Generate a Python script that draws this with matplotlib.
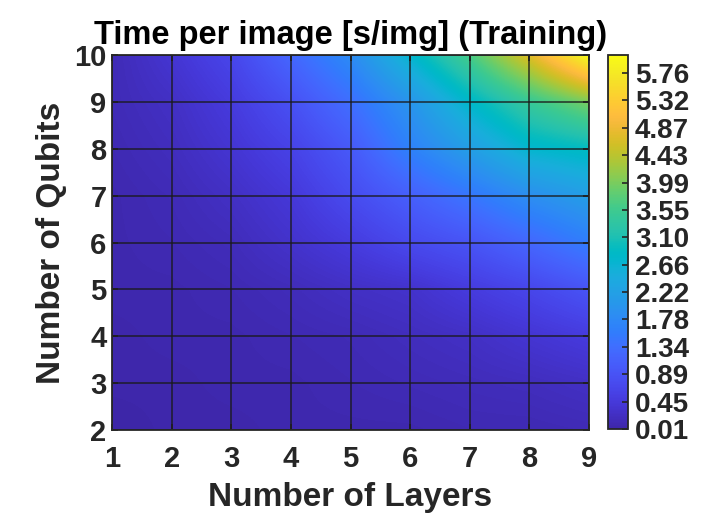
import numpy as np
import matplotlib
matplotlib.use("Agg")
import matplotlib.pyplot as plt
from matplotlib.colors import LinearSegmentedColormap, Normalize

# ---------------- data ----------------
layers = [1, 2, 3, 4, 5, 6, 7, 8, 9]
qubits = [2, 3, 4, 5, 6, 7, 8, 9, 10]
# time per image [s/img], rows = qubits (2..10), cols = layers (1..9)
t_q2 = [0.01, 0.04, 0.04, 0.07, 0.07, 0.07, 0.10, 0.10, 0.13]
t_q3 = [0.04, 0.04, 0.07, 0.07, 0.10, 0.13, 0.16, 0.19, 0.25]
t_q4 = [0.04, 0.07, 0.07, 0.10, 0.13, 0.19, 0.25, 0.37, 0.49]
t_q5 = [0.07, 0.07, 0.10, 0.16, 0.25, 0.31, 0.49, 0.67, 0.91]
t_q6 = [0.07, 0.10, 0.16, 0.31, 0.49, 0.73, 0.91, 1.22, 1.58]
t_q7 = [0.07, 0.13, 0.25, 0.43, 0.76, 1.10, 1.46, 1.88, 2.18]
t_q8 = [0.10, 0.19, 0.37, 0.61, 1.00, 1.64, 2.18, 2.73, 2.90]
t_q9 = [0.13, 0.25, 0.49, 0.85, 1.34, 2.00, 2.79, 3.45, 3.99]
t_q10 = [0.13, 0.37, 0.67, 1.22, 1.82, 2.73, 3.63, 4.72, 6.05]

cbar_ticks = [0.008 + 0.4424 * i for i in range(14)]
cbar_ticklabels = ["0.01", "0.45", "0.89", "1.34", "1.78", "2.22", "2.66",
                   "3.10", "3.55", "3.99", "4.43", "4.87", "5.32", "5.76"]
vmin, vmax = 0.008, 6.05

title = "Time per image [s/img] (Training)"
xlabel = "Number of Layers"
ylabel = "Number of Qubits"

# ---------------- parula colormap ----------------
parula_data = [
    [0.2422, 0.1504, 0.6603], [0.2504, 0.1650, 0.7076], [0.2578, 0.1818, 0.7511],
    [0.2647, 0.1978, 0.7952], [0.2706, 0.2147, 0.8364], [0.2751, 0.2342, 0.8710],
    [0.2783, 0.2559, 0.8991], [0.2803, 0.2782, 0.9221], [0.2813, 0.3006, 0.9414],
    [0.2810, 0.3228, 0.9579], [0.2795, 0.3447, 0.9717], [0.2760, 0.3667, 0.9829],
    [0.2699, 0.3892, 0.9906], [0.2602, 0.4123, 0.9952], [0.2440, 0.4358, 0.9988],
    [0.2206, 0.4603, 0.9973], [0.1963, 0.4847, 0.9892], [0.1834, 0.5074, 0.9798],
    [0.1786, 0.5289, 0.9682], [0.1764, 0.5499, 0.9520], [0.1687, 0.5703, 0.9359],
    [0.1540, 0.5902, 0.9218], [0.1460, 0.6091, 0.9079], [0.1380, 0.6276, 0.8973],
    [0.1248, 0.6459, 0.8883], [0.1113, 0.6635, 0.8763], [0.0952, 0.6798, 0.8598],
    [0.0689, 0.6948, 0.8394], [0.0297, 0.7082, 0.8163], [0.0036, 0.7203, 0.7917],
    [0.0067, 0.7312, 0.7660], [0.0433, 0.7411, 0.7394], [0.0964, 0.7500, 0.7120],
    [0.1408, 0.7584, 0.6842], [0.1717, 0.7670, 0.6554], [0.1938, 0.7758, 0.6251],
    [0.2161, 0.7843, 0.5923], [0.2470, 0.7918, 0.5567], [0.2906, 0.7973, 0.5188],
    [0.3406, 0.8008, 0.4789], [0.3909, 0.8029, 0.4354], [0.4456, 0.8024, 0.3909],
    [0.5044, 0.7993, 0.3480], [0.5616, 0.7942, 0.3045], [0.6174, 0.7876, 0.2612],
    [0.6720, 0.7793, 0.2227], [0.7242, 0.7698, 0.1910], [0.7738, 0.7598, 0.1646],
    [0.8203, 0.7498, 0.1535], [0.8634, 0.7406, 0.1596], [0.9035, 0.7330, 0.1774],
    [0.9393, 0.7288, 0.2100], [0.9728, 0.7298, 0.2394], [0.9956, 0.7434, 0.2371],
    [0.9970, 0.7659, 0.2199], [0.9952, 0.7893, 0.2028], [0.9892, 0.8136, 0.1885],
    [0.9786, 0.8386, 0.1766], [0.9676, 0.8639, 0.1643], [0.9610, 0.8890, 0.1537],
    [0.9597, 0.9135, 0.1423], [0.9628, 0.9373, 0.1265], [0.9691, 0.9606, 0.1064],
    [0.9769, 0.9839, 0.0805]]
parula = LinearSegmentedColormap.from_list("parula", parula_data, N=256)

# ---------------- figure ----------------
plt.rcParams['font.family'] = ['Liberation Sans', 'DejaVu Sans']
plt.rcParams['font.weight'] = 'bold'
TXT = '#262626'

fig = plt.figure(figsize=(7.04, 5.15), dpi=100)
W, H = 704, 515
ax = fig.add_axes([112 / W, 1 - 430 / H, (589 - 112) / W, (430 - 55) / H])
cax = fig.add_axes([608 / W, 1 - 429 / H, 20 / W, (429 - 55) / H])

Z = np.array([t_q2, t_q3, t_q4, t_q5, t_q6, t_q7, t_q8, t_q9, t_q10])
norm = Normalize(vmin=vmin, vmax=vmax)
dx = (layers[1] - layers[0]) / 2
dy = (qubits[1] - qubits[0]) / 2
img = ax.imshow(Z, cmap=parula, norm=norm, origin='lower', aspect='auto',
                interpolation='bilinear', interpolation_stage='data',
                extent=(layers[0] - dx, layers[-1] + dx, qubits[0] - dy, qubits[-1] + dy))

# mesh edges
for x in layers:
    ax.axvline(x, color='#1a1a1a', lw=1.3, alpha=0.75, zorder=3)
for y in qubits:
    ax.axhline(y, color='#1a1a1a', lw=1.3, alpha=0.75, zorder=3)

ax.set_xlim(layers[0], layers[-1])
ax.set_ylim(qubits[0], qubits[-1])
ax.set_xticks(layers)
ax.set_yticks(qubits)
ax.tick_params(axis='both', direction='in', length=4, width=1.2, color=TXT,
               labelcolor=TXT, labelsize=21, top=True, right=True)
ax.tick_params(axis='x', pad=11)
ax.tick_params(axis='y', pad=4)
for lab in ax.get_xticklabels() + ax.get_yticklabels():
    lab.set_fontweight('bold')
for s in ax.spines.values():
    s.set_color(TXT)
    s.set_linewidth(1.3)
    s.set_zorder(4)

ax.set_title(title, fontsize=23.5, fontweight='bold', pad=8, color='black')
ax.set_xlabel(xlabel, fontsize=24, fontweight='bold', labelpad=6, color=TXT)
ax.set_ylabel(ylabel, fontsize=24, fontweight='bold', labelpad=5, color=TXT)

cb = fig.colorbar(img, cax=cax, ticks=cbar_ticks)
cb.ax.set_yticklabels(cbar_ticklabels)
cb.ax.tick_params(direction='in', length=4, width=1.2, color=TXT, labelcolor=TXT,
                  labelsize=20, pad=5)
for lab in cb.ax.get_yticklabels():
    lab.set_fontweight('bold')
cb.outline.set_edgecolor(TXT)
cb.outline.set_linewidth(1.3)
cb.ax.set_ylim(vmin, vmax)

fig.savefig("out.png", dpi=100)
